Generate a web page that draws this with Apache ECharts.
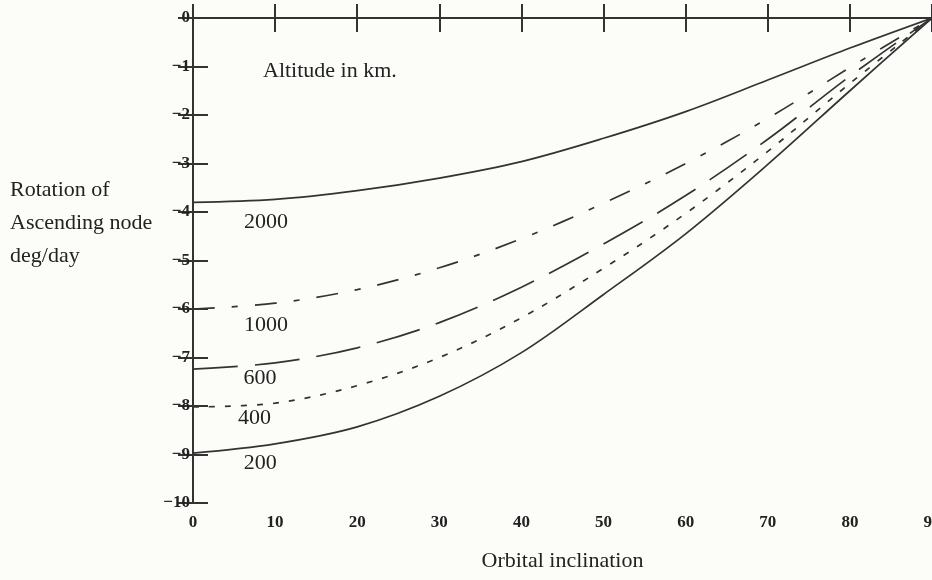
<!DOCTYPE html>
<html>
<head>
<meta charset="utf-8">
<script src="https://cdn.jsdelivr.net/npm/echarts@6/dist/echarts.min.js"></script>
<style>
  html, body { margin: 0; padding: 0; background: #fcfcf9; }
  #chart { width: 932px; height: 580px; }
</style>
</head>
<body>
<div id="chart"></div>
<script>
// orbital inclination (deg)
const inclination = [0, 10, 20, 30, 40, 50, 60, 70, 80, 90];
// rotation of ascending node (deg/day) per altitude
const alt2000 = [-3.80, -3.74, -3.56, -3.30, -2.96, -2.48, -1.93, -1.28, -0.62, 0];
const alt1000 = [-6.00, -5.88, -5.60, -5.15, -4.55, -3.82, -3.00, -2.07, -1.02, 0];
const alt600  = [-7.24, -7.11, -6.80, -6.28, -5.55, -4.66, -3.66, -2.50, -1.20, 0];
const alt400  = [-8.02, -7.94, -7.58, -7.00, -6.18, -5.16, -4.03, -2.75, -1.35, 0];
const alt200  = [-8.97, -8.78, -8.43, -7.80, -6.90, -5.70, -4.45, -3.02, -1.50, 0];
const altNames = ['2000', '1000', '600', '400', '200'];

const chart = echarts.init(document.getElementById('chart'));
const ink = '#333';
const serif = '"Liberation Serif", "DejaVu Serif", serif';

// line styles: solid, dash-dot, long dash, short dash, solid
const dashes = ['solid', [22, 17, 6, 17], [45, 17], [6, 10], 'solid'];
// where each altitude label sits (data coords, centre of text)
const labelPos = [[8.9, -4.21], [8.9, -6.33], [8.15, -7.42], [7.5, -8.25], [8.2, -9.18]];

function pairs(ys) {
    return inclination.map((x, i) => [x, ys[i]]);
}

const seriesData = [alt2000, alt1000, alt600, alt400, alt200];

const series = seriesData.map((ys, k) => ({
    name: altNames[k],
    type: 'line',
    data: pairs(ys),
    smooth: 0.35,
    showSymbol: false,
    lineStyle: { color: ink, width: 1.7, type: dashes[k] },
    markPoint: {
        symbol: 'circle',
        symbolSize: 0,
        data: [{ coord: labelPos[k], value: altNames[k] }],
        label: {
            show: true,
            position: 'inside',
            formatter: altNames[k],
            color: '#222',
            fontFamily: serif,
            fontSize: 22
        }
    }
}));

const tickLabel = {
    color: '#222',
    fontFamily: serif,
    fontWeight: 'bold',
    fontSize: 17
};

const option = {
    backgroundColor: '#fcfcf9',
    animation: false,
    grid: { left: 193, top: 18, width: 739, height: 485, outerBoundsMode: 'none', containLabel: false },
    xAxis: [{
        type: 'value',
        min: 0, max: 90, interval: 10,
        position: 'bottom',
        axisLine: { lineStyle: { color: ink, width: 2 } },
        axisTick: { inside: true, length: 14, lineStyle: { color: ink, width: 2 } },
        splitLine: { show: false },
        axisLabel: Object.assign({ margin: 11 }, tickLabel),
        name: 'Orbital inclination',
        nameLocation: 'middle',
        nameGap: 47,
        nameTextStyle: { color: '#222', fontFamily: serif, fontSize: 22 }
    }, {
        type: 'value',
        min: 0, max: 90, interval: 10,
        position: 'top',
        axisLine: { lineStyle: { color: ink, width: 2 } },
        axisTick: { inside: true, length: 14, lineStyle: { color: ink, width: 2 } },
        splitLine: { show: false },
        axisLabel: { show: false }
    }],
    yAxis: [{
        type: 'value',
        min: -10, max: 0, interval: 1,
        position: 'left',
        axisLine: { lineStyle: { color: ink, width: 2 } },
        axisTick: { inside: true, length: 15, lineStyle: { color: ink, width: 2 } },
        splitLine: { show: false },
        axisLabel: Object.assign({
            margin: 3,
            formatter: v => String(v).replace('-', '\u2212')
        }, tickLabel)
    }, {
        type: 'value',
        min: -10, max: 0, interval: 1,
        position: 'right',
        axisLine: { lineStyle: { color: ink, width: 2 } },
        axisTick: { inside: true, length: 15, lineStyle: { color: ink, width: 2 } },
        splitLine: { show: false },
        axisLabel: { show: false }
    }],
    graphic: [{
        type: 'text',
        left: 10,
        top: 174,
        style: {
            text: 'Rotation of\nAscending node\ndeg/day',
            fill: '#222',
            font: '22px ' + serif,
            lineHeight: 33
        }
    }, {
        type: 'text',
        left: 263,
        top: 60,
        style: {
            text: 'Altitude in km.',
            fill: '#222',
            font: '22px ' + serif
        }
    }],
    series: series
};

chart.setOption(option);
</script>
</body>
</html>
